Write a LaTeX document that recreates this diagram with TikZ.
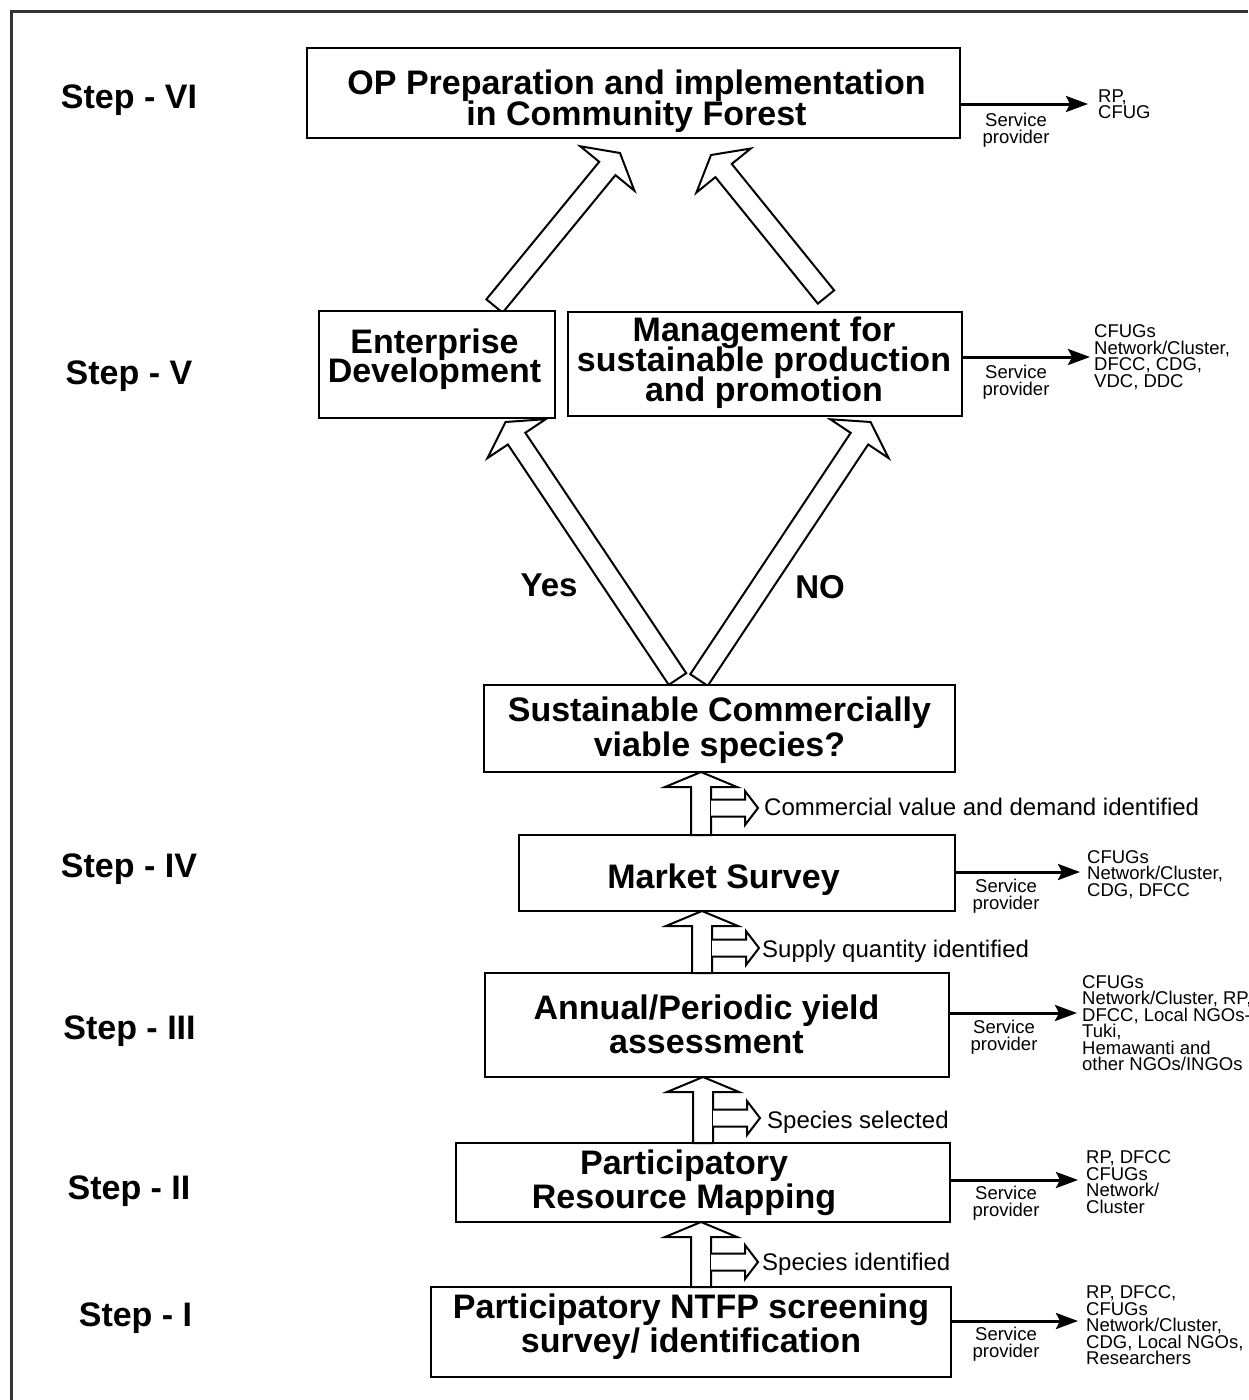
\documentclass[tikz,border=0pt]{standalone}
\usepackage{fontspec}
\setmainfont{Liberation Sans}
\usetikzlibrary{calc,arrows.meta}

% block arrow: name, start, tip, shaft half-width, head half-width, head length
\newcommand{\fatarrow}[6]{%
  \coordinate (#1hb) at ($(#3)!#6!(#2)$);
  \draw[blockarrow] ($(#2)!#4!90:(#3)$) -- ($(#1hb)!#4!90:(#3)$) -- ($(#1hb)!#5!90:(#3)$) -- (#3)
     -- ($(#1hb)!#5!-90:(#3)$) -- ($(#1hb)!#4!-90:(#3)$) -- ($(#2)!#4!-90:(#3)$) -- cycle;
}
% up arrow with side flag: x, y of tip, y of bottom, y of side arrow
\newcommand{\upflag}[4]{%
  \draw[blockarrow] (#1,#2) -- (#1+36,#2+15) -- (#1+10,#2+15) -- (#1+10,#3) -- (#1-10,#3)
     -- (#1-10,#2+15) -- (#1-36,#2+15) -- cycle;
  \draw[blockarrow] (#1+10,#4-8.5) -- (#1+44,#4-8.5) -- (#1+44,#4-17) -- (#1+57,#4)
     -- (#1+44,#4+17) -- (#1+44,#4+8.5) -- (#1+10,#4+8.5);
}

\tikzset{
  box/.style={draw, line width=2pt, fill=white, inner sep=0pt},
  boxtxt/.style={inner sep=0pt, align=center,
    font={\fontsize{34}{#1}\selectfont\bfseries\lineskiplimit=-100pt}},
  steplbl/.style={inner sep=0pt, font={\fontsize{34}{34}\selectfont\bfseries}},
  yn/.style={inner sep=0pt, font={\fontsize{33}{33}\selectfont\bfseries}},
  small/.style={inner sep=0pt, align=left,
    font={\fontsize{18.5}{16.5}\selectfont\lineskiplimit=-100pt}},
  svclbl/.style={inner sep=0pt, align=center,
    font={\fontsize{18.5}{16.5}\selectfont\lineskiplimit=-100pt}},
  sidelbl/.style={inner sep=0pt, anchor=west, font={\fontsize{24}{24}\selectfont}},
  blockarrow/.style={draw, line width=2pt, fill=white, line join=miter},
  svc/.style={line width=3pt, -{Stealth[length=22pt,width=16pt,inset=4pt]}},
}

\begin{document}
\begin{tikzpicture}[x=1pt,y=-1pt]
\useasboundingbox (0,0) rectangle (1248,1400);
\fill[white] (0,0) rectangle (1248,1400);
% frame
\draw[line width=3pt, black!80] (11,1400) -- (11,11) -- (1248,11);

% big block arrows
\coordinate (yesS) at (677.5,679);
\coordinate (yesT) at (505.5,422);
\coordinate (noS) at (699,680);
\coordinate (noT) at (870.5,422);
\coordinate (ulS) at (494.5,306);
\coordinate (ulT) at (620,153);
\coordinate (urS) at (826,297);
\coordinate (urT) at (711,155);
\fatarrow{yes}{yesS}{yesT}{10.5pt}{35pt}{20pt}
\fatarrow{no}{noS}{noT}{10.5pt}{35pt}{20pt}
\fatarrow{ul}{ulS}{ulT}{10.5pt}{35pt}{20pt}
\fatarrow{ur}{urS}{urT}{10.5pt}{35pt}{20pt}

% boxes
\node[box, minimum width=653pt, minimum height=90pt] (op) at (633.5,93) {};
\node[box, minimum width=236pt, minimum height=107pt] (ent) at (437,364.5) {};
\node[box, minimum width=394pt, minimum height=104pt] (mgmt) at (765,364) {};
\node[box, minimum width=471pt, minimum height=87pt] (sus) at (719.5,728.5) {};
\node[box, minimum width=436pt, minimum height=76pt] (mkt) at (737,873) {};
\node[box, minimum width=464pt, minimum height=104pt] (ann) at (717,1025) {};
\node[box, minimum width=494pt, minimum height=79pt] (prm) at (703,1182.5) {};
\node[box, minimum width=520pt, minimum height=90pt] (ntfp) at (691,1332) {};

% box texts
\node[boxtxt=31] (opT) at (636.5,101) {OP Preparation and implementation\\in Community Forest};
\node[boxtxt=29] (entT) at (434.5,359) {Enterprise\\Development};
\node[boxtxt=30] (mgmtT) at (764,363) {Management for\\sustainable production\\and promotion};
\node[boxtxt=35] (susT) at (719.5,730.5) {Sustainable Commercially\\viable species?};
\node[boxtxt=34] (mktT) at (723.5,880) {Market Survey};
\node[boxtxt=34] (annT) at (706.5,1024.5) {Annual/Periodic yield\\assessment};
\node[boxtxt=34] (prmT) at (684,1183) {Participatory\\Resource Mapping};
\node[boxtxt=34] (ntfpT) at (691,1327) {Participatory NTFP screening\\survey/ identification};

% Yes / NO
\node[yn] (yes) at (549,585) {Yes};
\node[yn] (no) at (820,587) {NO};

% step labels
\node[steplbl] (s6) at (129,100) {Step - VI};
\node[steplbl] (s5) at (129,376) {Step - V};
\node[steplbl] (s4) at (129,869) {Step - IV};
\node[steplbl] (s3) at (129.5,1031) {Step - III};
\node[steplbl] (s2) at (129,1191) {Step - II};
\node[steplbl] (s1) at (135.5,1318) {Step - I};

% small up arrows with side flags
\upflag{701}{772}{835}{808}
\upflag{702}{911}{973}{948}
\upflag{703}{1077}{1143}{1118}
\upflag{701}{1222}{1287}{1262}
\node[sidelbl] (l1) at (764,807) {Commercial value and demand identified};
\node[sidelbl] (l2) at (762,951) {Supply quantity identified};
\node[sidelbl] (l3) at (767,1122) {Species selected};
\node[sidelbl] (l4) at (762,1264) {Species identified};

% service provider arrows
\coordinate (e6) at (1088,104);
\coordinate (e5) at (1090,357);
\coordinate (e4) at (1080,872);
\coordinate (e3) at (1077,1013);
\coordinate (e2) at (1078,1180);
\coordinate (e1) at (1078,1321);
\draw[svc] (op.east |- e6) -- (e6);
\draw[svc] (mgmt.east |- e5) -- (e5);
\draw[svc] (mkt.east |- e4) -- (e4);
\draw[svc] (ann.east |- e3) -- (e3);
\draw[svc] (prm.east |- e2) -- (e2);
\draw[svc] (ntfp.east |- e1) -- (e1);

\node[svclbl] (sp6) at (1016,130) {Service\\provider};
\node[svclbl] (sp5) at (1016,382) {Service\\provider};
\node[svclbl] (sp4) at (1006,896) {Service\\provider};
\node[svclbl] (sp3) at (1004,1037) {Service\\provider};
\node[svclbl] (sp2) at (1006,1203) {Service\\provider};
\node[svclbl] (sp1) at (1006,1344) {Service\\provider};

\node[small, anchor=west] (r6) at (1098,104) {RP,\\CFUG};
\node[small, anchor=west] (r5) at (1094,357) {CFUGs\\Network/Cluster,\\DFCC, CDG,\\VDC, DDC};
\node[small, anchor=west] (r4) at (1087,874.5) {CFUGs\\Network/Cluster,\\CDG, DFCC};
\node[small, anchor=west] (r3) at (1082,1023) {CFUGs\\Network/Cluster, RP,\\DFCC, Local NGOs-\\Tuki,\\Hemawanti and\\other NGOs/INGOs};
\node[small, anchor=west] (r2) at (1086,1182) {RP, DFCC\\CFUGs\\Network/\\Cluster};
\node[small, anchor=west] (r1) at (1086,1325.5) {RP, DFCC,\\CFUGs\\Network/Cluster,\\CDG, Local NGOs,\\Researchers};
\end{tikzpicture}
\end{document}
